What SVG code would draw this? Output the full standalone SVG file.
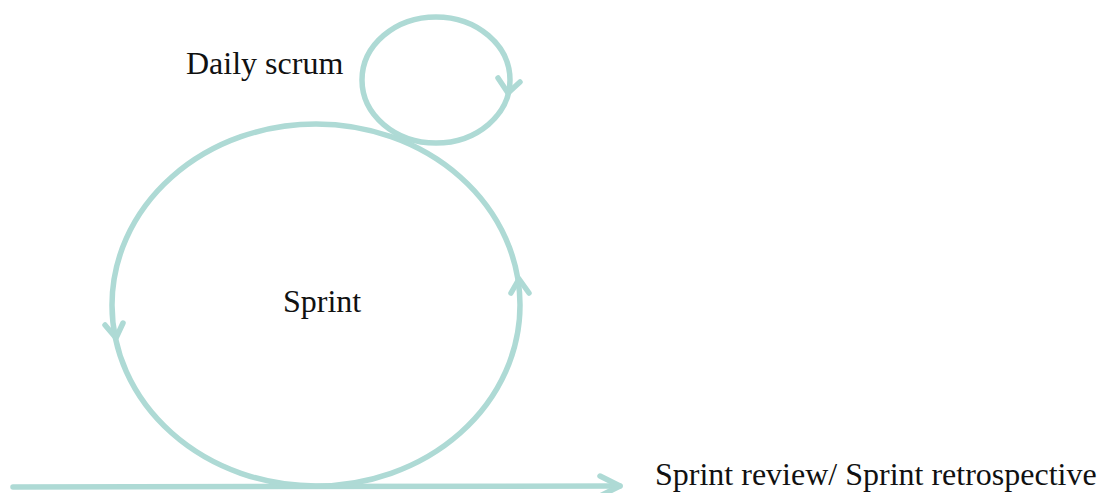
<svg xmlns="http://www.w3.org/2000/svg" width="1101" height="493" viewBox="0 0 1101 493">
  <style>
    .loop { fill: none; stroke: #AEDAD5; stroke-width: 5.5; stroke-linecap: round; stroke-linejoin: round; }
    .lbl { font-family: "Liberation Serif", "Times New Roman", serif; font-size: 32px; fill: #111; }
  </style>
  <rect width="1101" height="493" fill="#fff"/>
  <g id="connectors">
    <!-- timeline -->
    <path class="loop" d="M 13 487 L 620 486"/>
    <path class="loop" d="M 600 476 L 620 486 L 600 496"/>
  </g>
  <g id="sprint">
    <ellipse class="loop" cx="316" cy="305" rx="204" ry="181"/>
    <path class="loop" d="M 105 325 L 116 338 L 123 323"/>
    <path class="loop" d="M 511 293 L 519 279 L 529 293"/>
    <text class="lbl" x="283" y="312">Sprint</text>
  </g>
  <g id="daily-scrum">
    <ellipse class="loop" cx="436" cy="80" rx="74" ry="63"/>
    <path class="loop" d="M 498 78 L 508 93 L 520 82"/>
    <text class="lbl" x="186" y="74">Daily scrum</text>
  </g>
  <g id="review">
    <text class="lbl" x="655" y="485">Sprint review/ Sprint retrospective</text>
  </g>
</svg>
